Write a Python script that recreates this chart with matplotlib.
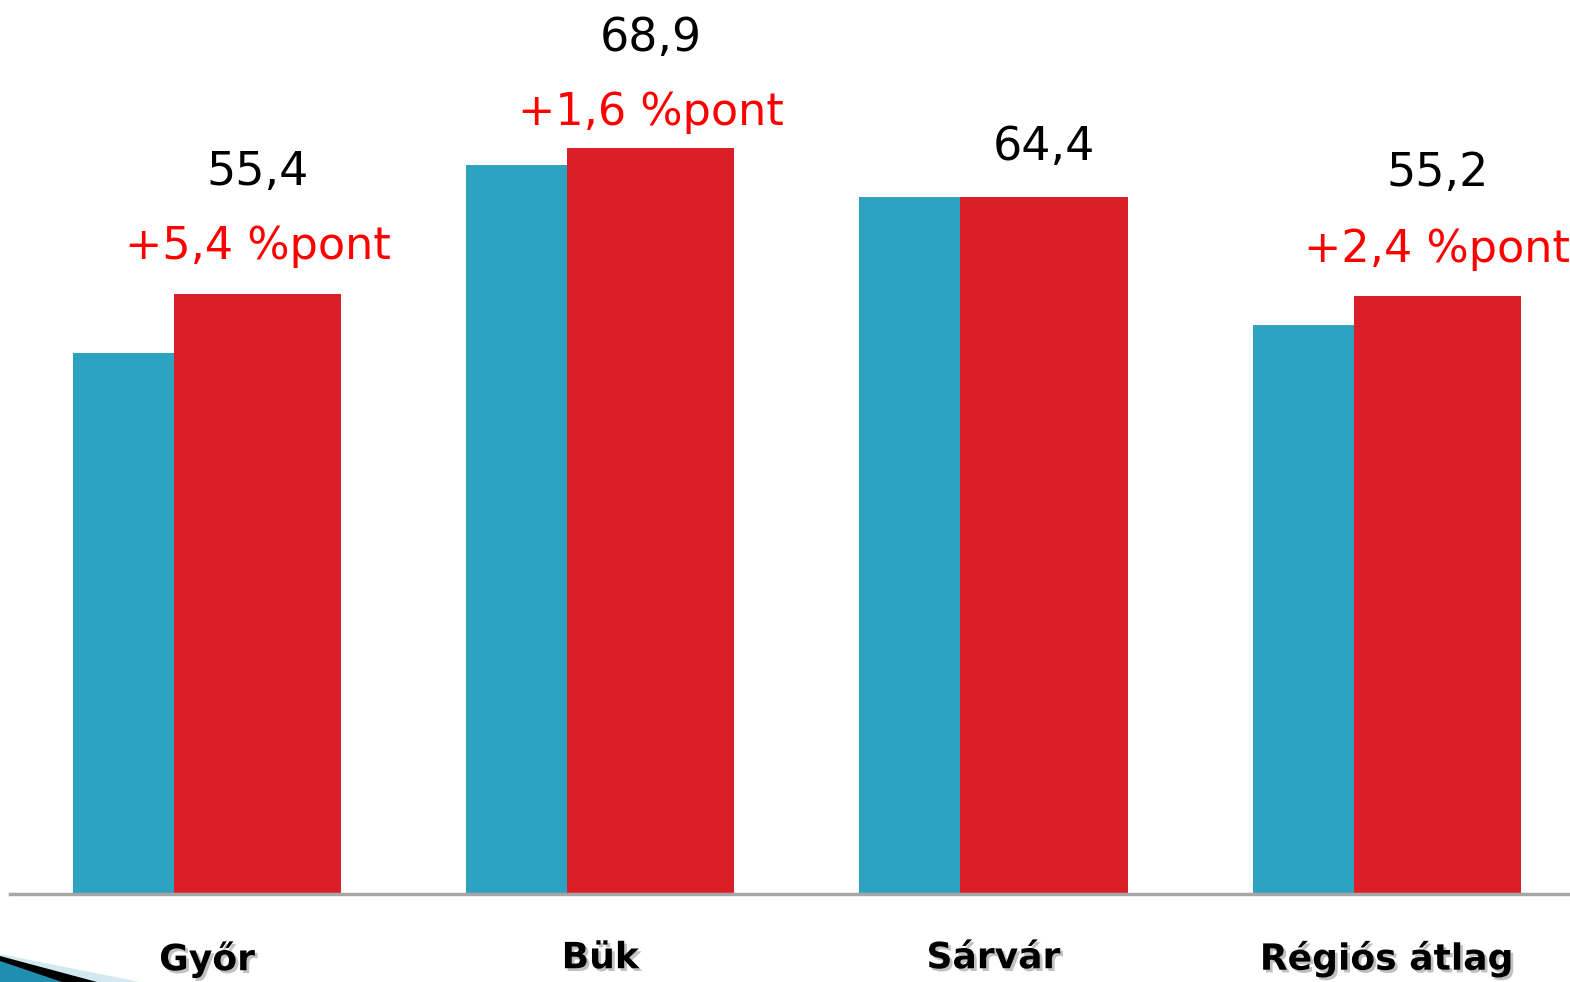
import matplotlib
matplotlib.use("Agg")
import matplotlib.pyplot as plt
from matplotlib import patheffects as pe
from matplotlib.patches import Polygon

# ---- data ----
categories = ["Győr", "Bük", "Sárvár", "Régiós átlag"]
previous = [50.0, 67.3, 64.4, 52.5]
current = [55.4, 68.9, 64.4, 55.2]
value_labels = ["55,4", "68,9", "64,4", "55,2"]
change_labels = ["+5,4 %pont", "+1,6 %pont", "", "+2,4 %pont"]

# ---- style ----
teal = "#2DA3C1"
red = "#DA1F29"
W, H = 1570, 982
fig = plt.figure(figsize=(W / 100, H / 100), dpi=100)
ax = fig.add_axes([10 / W, 88 / H, 1560 / W, 894 / H])

x = list(range(len(categories)))
teal_w = 0.257
red_w = 0.425
teal_left = [i - 0.341 for i in x]
red_left = [i - 0.084 for i in x]

ax.bar(teal_left, previous, width=teal_w, align="edge", color=teal, zorder=2)
ax.bar(red_left, current, width=red_w, align="edge", color=red, zorder=2)

ax.set_xlim(-0.501, 3.466)
ax.set_ylim(0, 82.55)

for s in ["top", "right", "left"]:
    ax.spines[s].set_visible(False)
ax.spines["bottom"].set_color("#A6A6A6")
ax.spines["bottom"].set_linewidth(2.5)
ax.set_yticks([])
ax.set_xticks(x)
ax.set_xticklabels(categories, fontsize=26, fontweight="bold", family="DejaVu Sans")
ax.tick_params(axis="x", length=0, pad=34)
for t in ax.get_xticklabels():
    t.set_path_effects([pe.withSimplePatchShadow(offset=(2, -2), shadow_rgbFace="#777777", alpha=0.45)])

# value and change labels above the red bars
black_off = [122, 109, 49, 123]   # px above bar top
red_off = [48, 35, 0, 47]
for i in x:
    cx = red_left[i] + red_w / 2
    ax.annotate(value_labels[i], (cx, current[i]), xytext=(0, black_off[i] * 0.72),
                textcoords="offset points", ha="center", va="center",
                fontsize=33, color="black", family="DejaVu Sans", annotation_clip=False)
    if change_labels[i]:
        ax.annotate(change_labels[i], (cx, current[i]), xytext=(0, red_off[i] * 0.72),
                    textcoords="offset points", ha="center", va="center",
                    fontsize=32, color="#FF0000", family="DejaVu Sans", annotation_clip=False)

# bottom-left slide decoration (pixel coords, y from top)
def px(pts):
    return [(a / W, 1 - b / H) for a, b in pts]

fig.patches.append(Polygon(px([(0, 954), (140, 982), (0, 982)]), closed=True,
                           facecolor="#D3E9F1", edgecolor="none", transform=fig.transFigure))
fig.patches.append(Polygon(px([(0, 956), (97, 982), (0, 982)]), closed=True,
                           facecolor="#000000", edgecolor="none", transform=fig.transFigure))
fig.patches.append(Polygon(px([(0, 961), (62, 982), (0, 982)]), closed=True,
                           facecolor="#1E8FAE", edgecolor="none", transform=fig.transFigure))

fig.savefig("out.png", dpi=100)
